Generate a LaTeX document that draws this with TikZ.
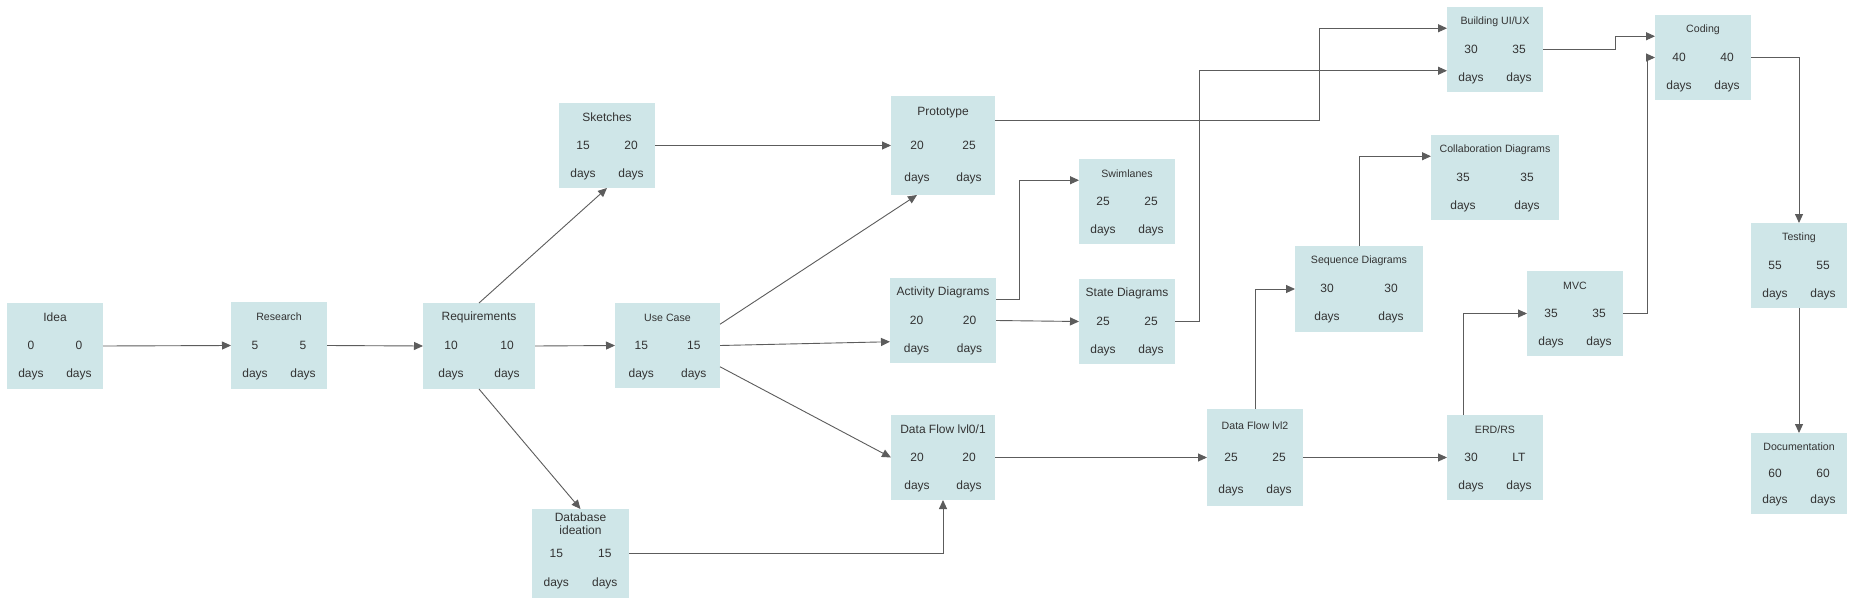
\documentclass[tikz,border=0pt]{standalone}
\usepackage{fontspec}
\setmainfont{Liberation Sans}
\usepackage{tikz}
\usetikzlibrary{arrows.meta, calc}
\definecolor{boxfill}{HTML}{CFE6E8}
\definecolor{inkgray}{HTML}{333333}
\definecolor{linegray}{HTML}{5C5C5C}

\begin{document}
\begin{tikzpicture}[x=1pt, y=-1pt,
    mybox/.style={fill=boxfill, draw=none, inner sep=0, outer sep=0},
    mytext/.style={inner sep=0, text=inkgray, align=center, font=\fontsize{12}{13}\selectfont},
    myarrow/.style={draw=linegray, line width=0.9pt, -{Triangle[length=9pt, width=8pt]}}]
  \fill[white] (0,0) rectangle (1854,610);
  \useasboundingbox (0,0) rectangle (1854,610);
  \foreach \nm/\xx/\yy/\ww/\hh/\fs/\ttl/\es/\ef in {
      idea/7/303/96/86/12/Idea/0/0,
      res/231/302/96/87/10.6/Research/5/5,
      req/423/303/112/86/12/Requirements/10/10,
      sk/559/103/96/85/12/Sketches/15/20,
      uc/615/303/105/85/10.6/Use Case/15/15,
      db/532/509/97/89/12/{Database\\ideation}/15/15,
      proto/891/96/104/99/12/Prototype/20/25,
      ad/890/278/106/85/12/Activity Diagrams/20/20,
      df/891/415/104/85/12/{Data Flow lvl0/1}/20/20,
      sw/1079/159/96/85/10.6/Swimlanes/25/25,
      st/1079/279/96/85/12/State Diagrams/25/25,
      dl2/1207/409/96/97/10.6/Data Flow lvl2/25/25,
      seq/1295/246/128/86/10.6/Sequence Diagrams/30/30,
      col/1431/135/128/85/10.6/Collaboration Diagrams/35/35,
      bu/1447/7/96/85/10.6/{Building UI/UX}/30/35,
      erd/1447/415/96/85/10.6/{ERD/RS}/30/LT,
      mvc/1527/271/96/85/10.6/MVC/35/35,
      cod/1655/15/96/85/10.6/Coding/40/40,
      tst/1751/223/96/85/10.6/Testing/55/55,
      doc/1751/433/96/81/10.6/Documentation/60/60}{
    \node[mybox, minimum width=\ww pt, minimum height=\hh pt] (\nm) at (\xx+\ww/2, \yy+\hh/2) {};
    \node[mytext, font=\fontsize{\fs}{13}\selectfont] (\nm-t) at (\xx+\ww/2, \yy+0.17*\hh) {\ttl};
    \node[mytext] (\nm-es) at (\xx+\ww/4, \yy+0.495*\hh) {\es};
    \node[mytext] (\nm-ef) at (\xx+3*\ww/4, \yy+0.495*\hh) {\ef};
    \node[mytext] (\nm-dl) at (\xx+\ww/4, \yy+0.835*\hh) {days};
    \node[mytext] (\nm-dr) at (\xx+3*\ww/4, \yy+0.835*\hh) {days};
  }
  \draw[myarrow] (idea.east) -- (res.west);
  \draw[myarrow] (res.east) -- (req.west);
  \draw[myarrow] (req.east) -- (uc.west);
  \draw[myarrow] (req.north) -- (sk.south);
  \draw[myarrow] (req.south) -- (db.north);
  \draw[myarrow] (sk.east) -- (proto.west);
  \draw[myarrow] ($(uc.north east)!.25!(uc.south east)$) -- ($(proto.south west)!.25!(proto.south east)$);
  \draw[myarrow] (uc.east) -- ($(ad.north west)!.75!(ad.south west)$);
  \draw[myarrow] ($(uc.north east)!.75!(uc.south east)$) -- (df.west);
  \draw[myarrow] (db.east) -| (df.south);
  \draw[myarrow] ($(proto.north east)!.25!(proto.south east)$) -- ++(324,0) |- ($(bu.north west)!.25!(bu.south west)$);
  \draw[myarrow] ($(ad.north east)!.25!(ad.south east)$) -- ++(23,0) |- ($(sw.north west)!.25!(sw.south west)$);
  \draw[myarrow] (ad.east) -- (st.west);
  \draw[myarrow] (st.east) -- ++(24,0) |- ($(bu.north west)!.75!(bu.south west)$);
  \draw[myarrow] (df.east) -- (dl2.west);
  \draw[myarrow] (dl2.north) |- (seq.west);
  \draw[myarrow] (seq.north) |- ($(col.north west)!.25!(col.south west)$);
  \draw[myarrow] (dl2.east) -- (erd.west);
  \draw[myarrow] ($(erd.north west)!.167!(erd.north east)$) |- (mvc.west);
  \draw[myarrow] (mvc.east) -- ++(24,0) |- (cod.west);
  \draw[myarrow] (bu.east) -- ++(72,0) |- ($(cod.north west)!.25!(cod.south west)$);
  \draw[myarrow] (cod.east) -| (tst.north);
  \draw[myarrow] (tst.south) -- (doc.north);
\end{tikzpicture}
\end{document}
